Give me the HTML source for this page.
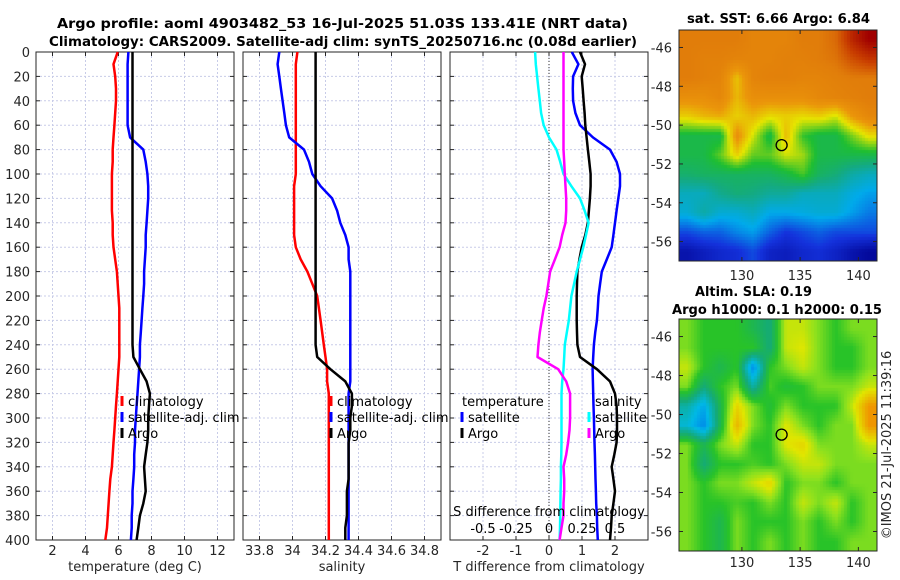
<!DOCTYPE html>
<html><head><meta charset="utf-8">
<style>
body{margin:0;background:#fff;}
#wrap{position:relative;width:900px;height:580px;overflow:hidden;background:#fff;font-family:"DejaVu Sans","Liberation Sans",sans-serif;}
svg text{font-family:"DejaVu Sans","Liberation Sans",sans-serif;}
canvas{position:absolute;}
</style></head>
<body>
<div id="wrap">
<canvas id="sstmap" style="left:679px;top:30px" width="198" height="231"></canvas>
<canvas id="slamap" style="left:679px;top:319px" width="198" height="232"></canvas>
<svg id="svg" width="900" height="580" style="position:absolute;left:0;top:0"></svg>
</div>
<script>
// ---------- data ----------
const depths = [0,10,20,30,40,50,60,70,80,90,100,110,120,130,140,150,160,170,180,190,200,210,220,230,240,250,260,270,280,290,300,310,320,330,340,350,360,370,380,390,400];
const tempClim = [5.95,5.7,5.8,5.85,5.85,5.8,5.75,5.7,5.65,5.65,5.6,5.6,5.6,5.6,5.65,5.65,5.7,5.8,5.9,5.95,6.0,6.05,6.05,6.05,6.05,6.05,6.0,5.95,5.9,5.85,5.8,5.75,5.7,5.65,5.6,5.5,5.45,5.4,5.35,5.3,5.2];
const tempSat = [6.6,6.55,6.55,6.55,6.55,6.55,6.55,6.7,7.5,7.65,7.75,7.8,7.8,7.75,7.7,7.65,7.65,7.6,7.55,7.55,7.5,7.45,7.4,7.35,7.3,7.3,7.25,7.2,7.15,7.1,7.05,7.0,7.0,6.95,6.95,6.9,6.85,6.85,6.8,6.8,6.75];
const tempArgo = [6.85,6.85,6.85,6.85,6.85,6.85,6.85,6.85,6.85,6.85,6.85,6.85,6.85,6.85,6.85,6.85,6.85,6.85,6.85,6.85,6.85,6.85,6.85,6.85,6.85,6.9,7.3,7.7,7.9,7.85,7.8,7.8,7.75,7.65,7.55,7.6,7.65,7.5,7.3,7.2,7.1];
const salClim = [34.03,34.02,34.02,34.02,34.02,34.02,34.02,34.02,34.02,34.02,34.02,34.01,34.01,34.01,34.01,34.01,34.02,34.05,34.09,34.12,34.15,34.16,34.17,34.18,34.19,34.2,34.21,34.21,34.22,34.22,34.22,34.22,34.22,34.22,34.22,34.22,34.22,34.22,34.22,34.22,34.22];
const salSat = [33.92,33.91,33.92,33.93,33.94,33.95,33.96,33.98,34.07,34.1,34.12,34.17,34.24,34.27,34.29,34.32,34.34,34.34,34.35,34.35,34.35,34.35,34.35,34.35,34.35,34.35,34.35,34.35,34.34,34.34,34.34,34.34,34.34,34.34,34.34,34.34,34.34,34.34,34.34,34.34,34.34];
const salArgo = [34.14,34.14,34.14,34.14,34.14,34.14,34.14,34.14,34.14,34.14,34.14,34.14,34.14,34.14,34.14,34.14,34.14,34.14,34.14,34.14,34.14,34.14,34.14,34.14,34.14,34.15,34.23,34.32,34.36,34.36,34.35,34.35,34.34,34.34,34.34,34.34,34.33,34.33,34.33,34.32,34.32];
const tDiffSat = [0.69,0.89,0.73,0.72,0.73,0.8,0.94,1.33,1.85,2.05,2.15,2.15,2.1,2.05,2.0,1.95,1.9,1.75,1.6,1.55,1.5,1.48,1.45,1.4,1.36,1.34,1.32,1.33,1.34,1.35,1.36,1.37,1.38,1.39,1.4,1.41,1.42,1.43,1.45,1.46,1.48];
const tDiffArgo = [0.94,1.09,0.99,1.02,1.05,1.08,1.1,1.14,1.18,1.22,1.26,1.26,1.24,1.21,1.18,1.1,0.99,0.92,0.86,0.85,0.84,0.84,0.84,0.85,0.86,0.94,1.45,1.85,2.0,2.05,2.06,2.06,2.05,1.98,1.9,1.95,2.0,1.95,1.9,1.88,1.85];
const sDiffSat = [-0.105,-0.1,-0.09,-0.08,-0.07,-0.06,-0.04,0.0,0.057,0.085,0.11,0.17,0.235,0.27,0.3,0.28,0.26,0.235,0.21,0.19,0.17,0.16,0.15,0.135,0.12,0.115,0.11,0.1,0.095,0.095,0.095,0.095,0.095,0.093,0.09,0.09,0.088,0.086,0.085,0.083,0.08];
const sDiffArgo = [0.11,0.11,0.11,0.11,0.11,0.11,0.11,0.11,0.11,0.115,0.12,0.125,0.13,0.13,0.125,0.1,0.08,0.045,0.008,-0.005,-0.02,-0.04,-0.055,-0.07,-0.08,-0.087,0.07,0.13,0.16,0.16,0.16,0.155,0.145,0.13,0.11,0.115,0.115,0.11,0.11,0.095,0.08];
const yTicks = [0,20,40,60,80,100,120,140,160,180,200,220,240,260,280,300,320,340,360,380,400];
const tempTicks = [2,4,6,8,10,12];
const salTicks = [33.8,34,34.2,34.4,34.6,34.8];
const tDiffTicks = [-2,-1,0,1,2];
const sDiffTicks = [-0.5,-0.25,0,0.25,0.5];
const sstGrid = [
[8.5,8.5,8.5,8.5,8.3,8.3,8.3,8.5,8.5,8.7,9.5,10],
[8.5,8.4,8.4,8.3,8.3,8.3,8.4,8.4,8.5,8.6,9,9.3],
[8.5,8.4,8.3,7.4,8.3,8.4,8.4,8.3,8.3,8.4,8.5,8.5],
[8,8,8.2,7.5,8,8,8,8,8.2,8.3,8.4,8.5],
[7.3,7.5,7.6,7.3,7.5,7.2,7.3,7.2,7.3,7,7.8,8.2],
[6,6,6,8,7,6,7.5,6.3,6,6,6.6,7.2],
[6,6,6.5,7.3,6.5,6.5,7,6.8,6,6,6,6],
[5.7,5.8,5.8,5.8,5.8,5.8,6,6.4,5.8,5.6,5.2,5],
[5,5,5.4,5.6,5.5,5.3,5.3,5,5,5,4.7,4.5],
[4.8,5.2,4.8,4.8,5,4.6,4.6,4.7,4.8,4.8,4.5,4.2],
[3.8,4,4,4.3,4.5,4,3.6,3.8,4,3.8,3.8,3.8],
[3,3.2,3.4,3.5,3.8,3.3,3.2,3.4,3.5,3.3,3,2.8]];
const slaGrid = [
[0.05,0,0,0,-0.05,-0.1,0.1,0.1,0.05,0,0.05,0.05],
[0.05,0,0,0,0,-0.1,0.1,0.12,0.05,0,0,0.05],
[0.1,0,-0.05,0,-0.3,0,0.05,0.1,0.05,0,0,0.05],
[0.05,-0.1,0,0.05,-0.15,0.02,-0.02,0,0.05,0.05,0.05,0.1],
[-0.15,-0.25,-0.05,0.15,0.05,-0.02,0.05,0,0,0,0.1,0.25],
[-0.2,-0.3,-0.05,0.2,0.05,0,0.12,0.05,0,0.05,0.05,0.25],
[0.05,-0.05,0.05,0.1,0,0,0.12,0.15,0.05,0.05,0.05,0.1],
[0.05,-0.1,0,0,0.02,0,0.05,0.1,0.1,0.05,0.05,0.05],
[0.05,0,0.05,0.05,0.1,0.15,0,0.05,0.05,0,0.05,0.05],
[0.05,0,0,0.02,0,0.05,0,0.1,0.05,0.1,0,0.05],
[0.05,0,-0.05,0.05,0,0,0,0.05,0,0.05,0,0.05],
[0.05,0,-0.05,0.05,0,0.05,0,0.05,0,0,0.05,0.05]];
const mapLatTicks = [-46,-48,-50,-52,-54,-56];
const mapLonTicks = [130,135,140];
const argoPos = {lon:133.41, lat:-51.03};

// ---------- helpers ----------
const NS='http://www.w3.org/2000/svg';
const svg=document.getElementById('svg');
function mk(tag,attrs,parent){const e=document.createElementNS(NS,tag);for(const k in attrs)e.setAttribute(k,attrs[k]);(parent||svg).appendChild(e);return e;}
function txt(s,x,y,opt){const t=mk('text',Object.assign({x:x,y:y,'font-size':13,fill:'#262626'},opt||{}));t.textContent=s;return t;}
const PT=52,PB=540;
const yD=d=>PT+(d/400)*(PB-PT);
function panel(name,x0,x1,xmin,xmax,ticks,fmt,label,yLabels){
  const sx=v=>x0+(v-xmin)/(xmax-xmin)*(x1-x0);
  const g=mk('g',{});
  
  
  yTicks.forEach(d=>{const l=mk('line',{x1:x0,x2:x1,y1:yD(d),y2:yD(d),stroke:'#c8cce8','stroke-width':1,'stroke-dasharray':'2,2'},g);
    
    mk('line',{x1:x0,x2:x0+4,y1:yD(d),y2:yD(d),stroke:'#262626'},g);mk('line',{x1:x1-4,x2:x1,y1:yD(d),y2:yD(d),stroke:'#262626'},g);
    if(yLabels){const t=txt(String(d),30,yD(d)+5,{'text-anchor':'end'});}
  });
  ticks.forEach(v=>{const X=sx(v);const l=mk('line',{x1:X,x2:X,y1:PT,y2:PB,stroke:'#c8cce8','stroke-width':1,'stroke-dasharray':'2,2'},g);
    
    mk('line',{x1:X,x2:X,y1:PB-4,y2:PB,stroke:'#262626'},g);mk('line',{x1:X,x2:X,y1:PT,y2:PT+4,stroke:'#262626'},g);
    const t=txt(fmt(v),X,555,{'text-anchor':'middle'});});
  const r=mk('rect',{x:x0,y:PT,width:x1-x0,height:PB-PT,fill:'none',stroke:'#262626','stroke-width':1},g);
  
  const xl=txt(label,(x0+x1)/2,571,{'text-anchor':'middle'});
  return sx;
}
function series(name,vals,sx,color){
  const d=vals.map((v,i)=>(i?'L':'M')+sx(v).toFixed(1)+','+yD(depths[i]).toFixed(1)).join('');
  const p=mk('path',{d:d,fill:'none',stroke:color,'stroke-width':2.5,'stroke-linejoin':'round'});
  
}
function legend(items,x,y){
  items.forEach((it,i)=>{const yy=y+i*16;
    if(it.c){const m=mk('line',{x1:x,x2:x,y1:yy-10,y2:yy,stroke:it.c,'stroke-width':3});}
    const t=txt(it.t,x+(it.c?6:0),yy,{fill:'#000'});});
}
function title(s,cx,y,w,name){
  const t=txt(s,cx,y,{'text-anchor':'middle','font-weight':'bold',fill:'#000',textLength:w,lengthAdjust:'spacingAndGlyphs'});
  
}

// ---------- titles ----------
title('Argo profile: aoml 4903482_53 16-Jul-2025 51.03S 133.41E (NRT data)',342.5,28,571,'main-title');
title('Climatology: CARS2009. Satellite-adj clim: synTS_20250716.nc (0.08d earlier)',343,46,588,'subtitle');

// ---------- panel 1 ----------
const sx1=panel('temperature',36,234,1,13,tempTicks,v=>String(v),'temperature (deg C)',true);
series('temp-climatology-line',tempClim,sx1,'#ff0000');
series('temp-satellite-line',tempSat,sx1,'#0000ff');
series('temp-argo-line',tempArgo,sx1,'#000000');
legend([{t:'climatology',c:'#ff0000'},{t:'satellite-adj. clim',c:'#0000ff'},{t:'Argo',c:'#000'}],122,406);

// ---------- panel 2 ----------
const sx2=panel('salinity',243,441,33.7,34.9,salTicks,v=>v.toFixed(1).replace(/\.0$/,''),'salinity',false);
series('sal-climatology-line',salClim,sx2,'#ff0000');
series('sal-satellite-line',salSat,sx2,'#0000ff');
series('sal-argo-line',salArgo,sx2,'#000000');
legend([{t:'climatology',c:'#ff0000'},{t:'satellite-adj. clim',c:'#0000ff'},{t:'Argo',c:'#000'}],331,406);

// ---------- panel 3 ----------
const sx3=panel('difference',450,648,-3,3,tDiffTicks,v=>String(v),'T difference from climatology',false);
const sxS=v=>sx3(v*4);
let z=mk('line',{x1:sx3(0),x2:sx3(0),y1:PT,y2:PB,stroke:'#333','stroke-width':1,'stroke-dasharray':'1,2'});

series('tdiff-satellite-line',tDiffSat,sx3,'#0000ff');
series('tdiff-argo-line',tDiffArgo,sx3,'#000000');
series('sdiff-satellite-line',sDiffSat,sxS,'#00ffff');
series('sdiff-argo-line',sDiffArgo,sxS,'#ff00ff');
legend([{t:'temperature'},{t:'satellite',c:'#0000ff'},{t:'Argo',c:'#000'}],462,406);
legend([{t:'salinity'}],595,406);
legend([{t:'satellite',c:'#00ffff'},{t:'Argo',c:'#ff00ff'}],589,422);
let t=txt('S difference from climatology',549,516,{'text-anchor':'middle',fill:'#000'});

sDiffTicks.forEach(v=>{const s=txt(String(v),sxS(v),533,{'text-anchor':'middle',fill:'#000'});});

// ---------- maps ----------
const sstStops=[[2.6,[0,0,140]],[3.6,[20,50,220]],[4.6,[0,170,235]],[5.5,[20,170,130]],[6.2,[30,190,50]],[7.1,[230,230,0]],[7.8,[235,150,10]],[8.5,[225,125,10]],[9.2,[200,60,0]],[10,[160,0,0]]];
const slaStops=[[-0.35,[0,110,235]],[-0.22,[0,185,230]],[-0.1,[20,170,120]],[0,[40,195,40]],[0.06,[140,225,30]],[0.12,[225,230,0]],[0.25,[240,150,0]]];
function cmap(stops,v){
  if(v<=stops[0][0])return stops[0][1];
  for(let i=1;i<stops.length;i++){if(v<=stops[i][0]){const a=stops[i-1],b=stops[i],f=(v-a[0])/(b[0]-a[0]);return a[1].map((c,k)=>c+(b[1][k]-c)*f);}}
  return stops[stops.length-1][1];
}
function drawMap(id,grid,stops){
  const c=document.getElementById(id),ctx=c.getContext('2d'),W=c.width,H=c.height;
  const img=ctx.createImageData(W,H);const R=grid.length,C=grid[0].length;
  for(let y=0;y<H;y+=3)for(let x=0;x<W;x+=3){
    const gy=Math.max(0,Math.min(R-1.001,(y+1.5)/H*R-0.5)),gx=Math.max(0,Math.min(C-1.001,(x+1.5)/W*C-0.5));
    const i=Math.floor(gy),j=Math.floor(gx),fy=gy-i,fx=gx-j;
    const v=grid[i][j]*(1-fx)*(1-fy)+grid[i][j+1]*fx*(1-fy)+grid[i+1][j]*(1-fx)*fy+grid[i+1][j+1]*fx*fy;
    const col=cmap(stops,v);
    for(let dy=0;dy<3;dy++)for(let dx=0;dx<3;dx++){const X=x+dx,Y=y+dy;if(X>=W||Y>=H)continue;const k=(Y*W+X)*4;img.data[k]=col[0];img.data[k+1]=col[1];img.data[k+2]=col[2];img.data[k+3]=255;}
  }
  ctx.putImageData(img,0,0);
}
drawMap('sstmap',sstGrid,sstStops);
drawMap('slamap',slaGrid,slaStops);
function mapAxes(name,x0,y0,w,h,latTop,latBot,lon0,lon1,ticksBelow){
  const sx=v=>x0+(v-lon0)/(lon1-lon0)*w, sy=v=>y0+(latTop-v)/(latTop-latBot)*h;
  const r=mk('rect',{x:x0,y:y0,width:w,height:h,fill:'none',stroke:'#262626'});
  
  mapLatTicks.forEach(v=>{const Y=sy(v);mk('line',{x1:x0,x2:x0+4,y1:Y,y2:Y,stroke:'#262626'});mk('line',{x1:x0+w-4,x2:x0+w,y1:Y,y2:Y,stroke:'#262626'});
    const l=txt(String(v),672,Y+5,{'text-anchor':'end'});});
  mapLonTicks.forEach(v=>{const X=sx(v);mk('line',{x1:X,x2:X,y1:y0+h-4,y2:y0+h,stroke:'#262626'});mk('line',{x1:X,x2:X,y1:y0,y2:y0+4,stroke:'#262626'});
    const l=txt(String(v),X,ticksBelow,{'text-anchor':'middle'});});
  const c=mk('circle',{cx:sx(argoPos.lon),cy:sy(argoPos.lat),r:5.5,fill:'none',stroke:'#000','stroke-width':1.3});
  
}
mapAxes('sst-map',679,30,198,231,-45.1,-57.0,124.6,141.6,280);
mapAxes('sla-map',679,319,198,232,-45.1,-57.0,124.6,141.6,567);
title('sat. SST: 6.66 Argo: 6.84',778.5,23,183,'sst-map-title');
title('Altim. SLA: 0.19',753.5,296,117,'sla-map-title');
title('Argo h1000: 0.1 h2000: 0.15',777,314,210,'sla-map-subtitle');
t=txt('\u00A9IMOS 21-Jul-2025 11:39:16',0,0,{'text-anchor':'middle',transform:'translate(891,445) rotate(-90)'});

</script>
</body></html>
